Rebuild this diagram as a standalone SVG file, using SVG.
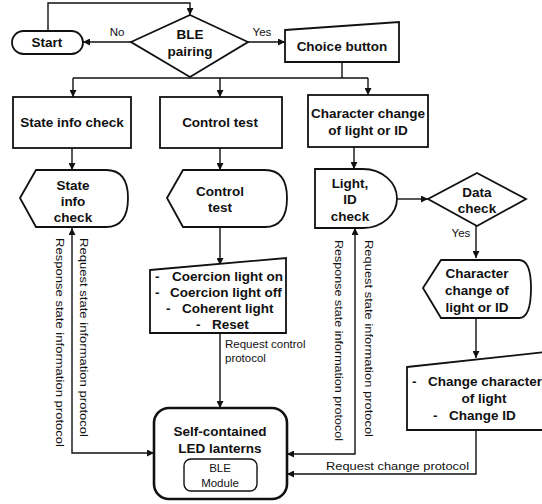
<svg xmlns="http://www.w3.org/2000/svg" width="542" height="504" viewBox="0 0 542 504">
<defs>
<marker id="ah" viewBox="0 0 10 10" refX="10" refY="5" markerWidth="7" markerHeight="7" markerUnits="userSpaceOnUse" orient="auto-start-reverse">
<path d="M0,0 L10,5 L0,10 Z" fill="#111"/>
</marker>
<style>
.s{fill:#fff;stroke:#111;stroke-width:1.8}
.b{font-family:"Liberation Sans",Arial,sans-serif;font-weight:bold;font-size:13.5px;fill:#111;text-anchor:middle}
.l{font-family:"Liberation Sans",Arial,sans-serif;font-weight:bold;font-size:13.5px;fill:#111;text-anchor:start}
.n{font-family:"Liberation Sans",Arial,sans-serif;font-size:11.5px;fill:#111}
.c{fill:none;stroke:#111;stroke-width:1.4}
</style>
</defs>
<rect width="542" height="504" fill="#fff"/>
<g id="connectors">
<path class="c" d="M48,30 V3 H190 V15" marker-end="url(#ah)"/>
<path class="c" d="M131,42 H83" marker-end="url(#ah)"/>
<path class="c" d="M248,42 H285" marker-end="url(#ah)"/>
<path class="c" d="M342,62 V78 M73,78 H368"/>
<path class="c" d="M73,78 V97" marker-end="url(#ah)"/>
<path class="c" d="M220,78 V97" marker-end="url(#ah)"/>
<path class="c" d="M368,78 V95" marker-end="url(#ah)"/>
<path class="c" d="M72,148 V170" marker-end="url(#ah)"/>
<path class="c" d="M220,148 V170" marker-end="url(#ah)"/>
<path class="c" d="M354,147 V169" marker-end="url(#ah)"/>
<path class="c" d="M220,227 V265" marker-end="url(#ah)"/>
<path class="c" d="M220,333 V408" marker-end="url(#ah)"/>
<path class="c" d="M154,453 H72 V228" marker-start="url(#ah)" marker-end="url(#ah)"/>
<path class="c" d="M287,454 H355 V228" marker-start="url(#ah)" marker-end="url(#ah)"/>
<path class="c" d="M397,199 H428" marker-end="url(#ah)"/>
<path class="c" d="M476,226 V258" marker-end="url(#ah)"/>
<path class="c" d="M476,318 V358" marker-end="url(#ah)"/>
<path class="c" d="M476,430 V474 H287" marker-end="url(#ah)"/>
<text class="n" x="117" y="36" text-anchor="middle" font-size="12">No</text>
<text class="n" x="262" y="36" text-anchor="middle" font-size="12">Yes</text>
<text class="n" x="461" y="237" text-anchor="middle">Yes</text>
<text class="n" x="225" y="348">Request control</text>
<text class="n" x="225" y="362">protocol</text>
<text class="n" x="326" y="470" textLength="143" lengthAdjust="spacingAndGlyphs">Request change protocol</text>
<text class="n" transform="translate(56,238) rotate(90)" textLength="209" lengthAdjust="spacingAndGlyphs">Response state information protocol</text>
<text class="n" transform="translate(80,238) rotate(90)" textLength="199" lengthAdjust="spacingAndGlyphs">Request state information protocol</text>
<text class="n" transform="translate(335,240) rotate(90)" textLength="201" lengthAdjust="spacingAndGlyphs">Response state information protocol</text>
<text class="n" transform="translate(365,240) rotate(90)" textLength="197" lengthAdjust="spacingAndGlyphs">Request state information protocol</text>
</g>
<g id="start">
<rect class="s" x="12" y="31" width="71" height="23" rx="11.5"/>
<text class="b" x="47" y="47">Start</text>
</g>
<g id="ble-pairing">
<polygon class="s" points="190,15 248,42 190,77 131,42"/>
<text class="b" x="190" y="39">BLE</text>
<text class="b" x="190" y="56">pairing</text>
</g>
<g id="choice-button">
<polygon class="s" points="285,30 399,22 399,62 285,62"/>
<text class="b" x="342" y="51">Choice button</text>
</g>
<g id="state-info-check-box">
<rect class="s" x="13" y="97" width="118" height="51"/>
<text class="b" x="72" y="127">State info check</text>
</g>
<g id="control-test-box">
<rect class="s" x="160" y="97" width="122" height="51"/>
<text class="b" x="220" y="127">Control test</text>
</g>
<g id="character-change-box">
<rect class="s" x="308" y="95" width="120" height="52"/>
<text class="b" x="368" y="118">Character change</text>
<text class="b" x="368" y="135">of light or ID</text>
</g>
<g id="state-info-check-display">
<path class="s" d="M20,198 L36,170 H106 Q128,170 128,198 Q128,227 106,227 H36 Z"/>
<text class="b" x="73" y="190">State</text>
<text class="b" x="73" y="206">info</text>
<text class="b" x="73" y="222">check</text>
</g>
<g id="control-test-display">
<path class="s" d="M167,198 L183,170 H265 Q287,170 287,198 Q287,227 265,227 H183 Z"/>
<text class="b" x="220" y="196">Control</text>
<text class="b" x="220" y="212">test</text>
</g>
<g id="light-id-check">
<path class="s" d="M315,169 H363 A34,29.5 0 0 1 363,228 H315 Z"/>
<text class="b" x="350" y="188">Light,</text>
<text class="b" x="350" y="204">ID</text>
<text class="b" x="350" y="221">check</text>
</g>
<g id="data-check">
<polygon class="s" points="477,173 526,199 477,226 428,199"/>
<text class="b" x="477" y="197">Data</text>
<text class="b" x="477" y="213">check</text>
</g>
<g id="control-list">
<polygon class="s" points="150,270 286,258 286,333 150,333"/>
<text class="l" x="155" y="281">-</text>
<text class="l" x="172" y="281">Coercion light on</text>
<text class="l" x="155" y="297">-</text>
<text class="l" x="170" y="297">Coercion light off</text>
<text class="l" x="166" y="313">-</text>
<text class="l" x="182" y="313">Coherent light</text>
<text class="l" x="196" y="329">-</text>
<text class="l" x="212" y="329">Reset</text>
</g>
<g id="character-change-display">
<path class="s" d="M423,288 L441,260 H519 Q531,260 531,288 Q531,318 519,318 H441 Z"/>
<text class="b" x="477" y="278">Character</text>
<text class="b" x="477" y="295">change of</text>
<text class="b" x="477" y="312">light or ID</text>
</g>
<g id="change-list">
<polygon class="s" points="407,367 546,352 546,430 407,430"/>
<text class="l" x="412" y="386">-</text>
<text class="l" x="428" y="386">Change character</text>
<text class="b" x="484" y="403">of light</text>
<text class="l" x="433" y="420">-</text>
<text class="l" x="449" y="420">Change ID</text>
</g>
<g id="led-lanterns">
<rect x="154" y="408" width="133" height="91" rx="15" fill="#fff" stroke="#111" stroke-width="2.6"/>
<text class="b" x="220" y="436" font-size="14">Self-contained</text>
<text class="b" x="220" y="453" font-size="14">LED lanterns</text>
<g id="ble-module">
<rect x="184" y="459" width="73" height="32" rx="7" fill="#fff" stroke="#111" stroke-width="1.4"/>
<text class="n" x="220" y="472" text-anchor="middle" font-size="12">BLE</text>
<text class="n" x="220" y="487" text-anchor="middle" font-size="12">Module</text>
</g>
</g>
</svg>
